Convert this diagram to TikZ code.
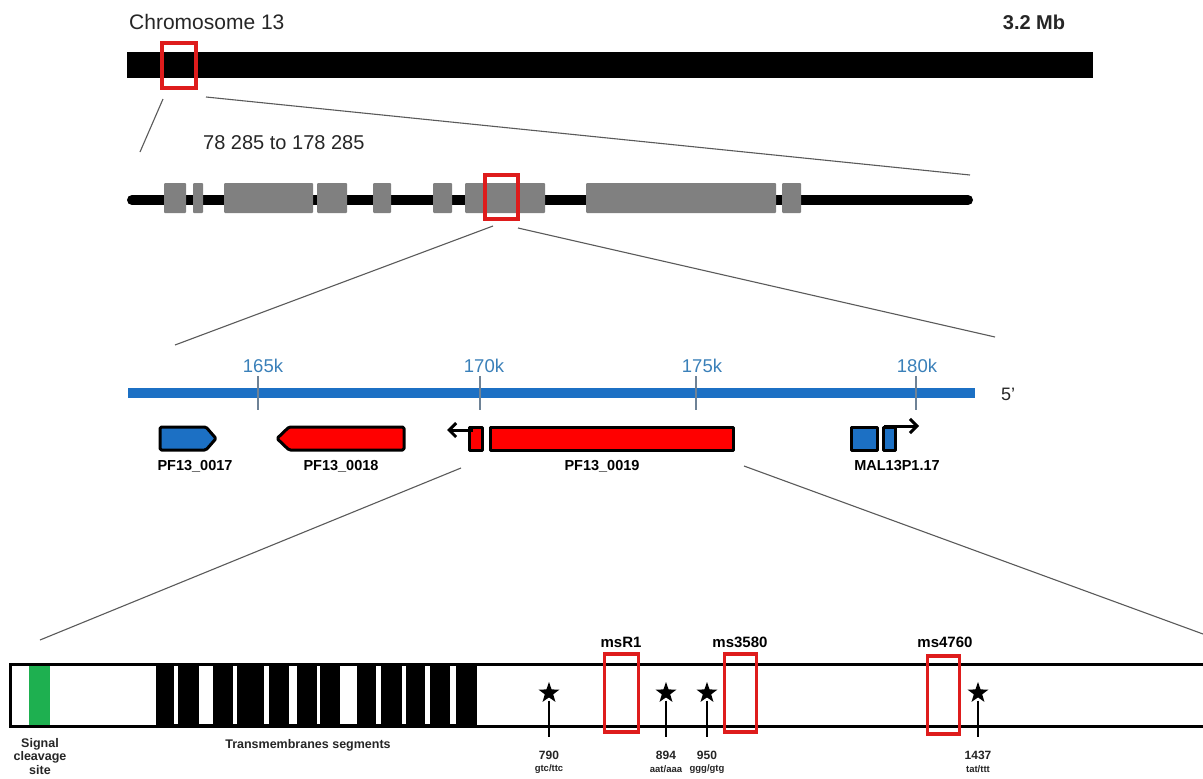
\documentclass[tikz,border=0pt]{standalone}
\usepackage{fontspec}
\setmainfont{Liberation Sans}
\usetikzlibrary{shapes.geometric,arrows.meta}
\definecolor{chrblue}{RGB}{28,112,196}
\definecolor{ticklab}{RGB}{58,128,185}
\definecolor{tickcol}{RGB}{110,130,150}
\definecolor{boxred}{RGB}{222,28,28}
\definecolor{genered}{RGB}{255,0,0}
\definecolor{sigkeep}{RGB}{30,176,80}
\definecolor{exon}{RGB}{128,128,128}
\definecolor{zoomline}{RGB}{90,90,90}
\tikzset{
  zoombox/.style={draw=boxred,line width=3.2pt},
  zoomconn/.style={draw=zoomline,line width=1.1pt},
  exonbox/.style={fill=exon,rounded corners=1pt},
  genebox/.style={draw=black,line width=3pt,line join=round},
  strandarrow/.style={draw=black,line width=3pt,-{Straight Barb[length=7pt,width=14pt]}},
  ticklabel/.style={text=ticklab,font=\fontsize{18.5}{20}\selectfont,inner sep=0pt},
  tickmark/.style={draw=tickcol,line width=1.4pt},
  genelabel/.style={font=\fontsize{14.5}{16}\selectfont\bfseries,inner sep=0pt},
  mslabel/.style={font=\fontsize{15}{16}\selectfont\bfseries,inner sep=0pt},
  snpstar/.style={star,star points=5,star point ratio=2.5,fill=black,minimum size=22pt,inner sep=0pt},
  snpnum/.style={font=\fontsize{12}{13}\selectfont\bfseries,inner sep=0pt,text=black!85},
  snpcod/.style={font=\fontsize{9.5}{10}\selectfont\bfseries,inner sep=0pt,text=black!85},
  seglabel/.style={font=\fontsize{12.5}{13.5}\selectfont\bfseries,inner sep=0pt,align=center,text=black!85},
}
\begin{document}
\begin{tikzpicture}[x=1pt,y=-1pt]
\useasboundingbox (0,0) rectangle (1203,779);
\clip (0,0) rectangle (1203,779);
\fill[white] (0,0) rectangle (1203,779);

% ---------- level 1: chromosome ----------
\node[anchor=west,inner sep=0pt,font=\fontsize{21}{22}\selectfont,text=black!85] (chrlab) at (129,22) {Chromosome 13};
\node[inner sep=0pt,font=\fontsize{20}{22}\selectfont\bfseries,text=black!85] (sizelab) at (1034,22) {3.2 Mb};
\fill[black] (127,52) rectangle (1093,78);
\node[zoombox,minimum width=34pt,minimum height=45pt,inner sep=0pt] (box1) at (179,65.5) {};

\coordinate (c1a) at (163,99);
\coordinate (c1b) at (140,152);
\coordinate (c1c) at (206,97);
\coordinate (c1d) at (970,175);
\draw[zoomconn] (c1a) -- (c1b);
\draw[zoomconn] (c1c) -- (c1d);

% ---------- level 2: region ----------
\node[anchor=west,inner sep=0pt,font=\fontsize{20}{22}\selectfont,text=black!85] (reglab) at (203,143) {78 285 to 178 285};
\draw[black,line width=10pt,line cap=round] (132,200) -- (968,200);
\foreach \a/\b in {164/186,193/203,224/313,317/347,373/391,433/452,465/545,586/776,782/801}{
  \fill[exonbox] (\a,183) rectangle (\b,213);
}
\node[zoombox,minimum width=33pt,minimum height=44pt,inner sep=0pt] (box2) at (501.5,197) {};

\coordinate (c2a) at (493,226);
\coordinate (c2b) at (175,345);
\coordinate (c2c) at (518,228);
\coordinate (c2d) at (995,337);
\draw[zoomconn] (c2a) -- (c2b);
\draw[zoomconn] (c2c) -- (c2d);

% ---------- level 3: genes ----------
\fill[chrblue] (128,388) rectangle (975,398);
\foreach \x/\lx/\t in {258/263/165k,480/484/170k,696/702/175k,916/917/180k}{
  \draw[tickmark] (\x,376) -- (\x,410);
  \node[ticklabel] at (\lx,366) {\t};
}
\node[inner sep=0pt,font=\fontsize{18}{20}\selectfont,text=black!85] (fivep) at (1008,394) {5'};

% PF13_0017
\draw[genebox,fill=chrblue,rounded corners=1.5pt] (160,427) -- (206,427) -- (216,438.5) -- (206,450) -- (160,450) -- cycle;
\node[genelabel] (g17) at (195,466) {PF13\_0017};
% PF13_0018
\draw[genebox,fill=genered,rounded corners=1.5pt] (404,427) -- (289,427) -- (277,438.5) -- (289,450) -- (404,450) -- cycle;
\node[genelabel] (g18) at (341,466) {PF13\_0018};
% PF13_0019
\draw[genebox,fill=genered] (469,427) rectangle (482,450);
\draw[genebox,fill=genered] (490,427) rectangle (733,450);
\coordinate (a19s) at (473,430);
\coordinate (a19e) at (447,430);
\draw[strandarrow] (a19s) -- (a19e);
\node[genelabel] (g19) at (602,466) {PF13\_0019};
% MAL13P1.17
\draw[genebox,fill=chrblue] (851,427) rectangle (877,450);
\draw[genebox,fill=chrblue] (883,427) rectangle (895,450);
\coordinate (amals) at (884,426);
\coordinate (amale) at (919,426);
\draw[strandarrow] (amals) -- (amale);
\node[genelabel] (gmal) at (897,466) {MAL13P1.17};

\coordinate (c3a) at (461,468);
\coordinate (c3b) at (40,640);
\coordinate (c3c) at (744,466);
\coordinate (c3d) at (1203,634);
\draw[zoomconn] (c3a) -- (c3b);
\draw[zoomconn] (c3c) -- (c3d);

% ---------- level 4: protein ----------
\fill[sigkeep] (29,664) rectangle (50,726);
\fill[black] (156,664) rectangle (477,726);
\foreach \a/\b in {174.3/177.7,199.3/212.7,232.7/237.3,264.3/269.3,289.3/296.7,316.7/320,340/357.3,376/381.3,401.7/406,425/430,450/455.7}{
  \fill[white] (\a,666) rectangle (\b,724);
}
\draw[black,line width=3pt] (1215,664) -- (10,664) -- (10,726) -- (1215,726);

\node[zoombox,minimum width=34pt,minimum height=78pt,inner sep=0pt] (msr1) at (621.5,693) {};
\node[zoombox,minimum width=32pt,minimum height=78pt,inner sep=0pt] (ms3580) at (740.5,693) {};
\node[zoombox,minimum width=32pt,minimum height=78pt,inner sep=0pt] (ms4760) at (943.5,695) {};
\node[mslabel] (lmsr1) at (621,642) {msR1};
\node[mslabel] (lms3580) at (740,642) {ms3580};
\node[mslabel] (lms4760) at (945,642) {ms4760};

\foreach \n/\x/\num/\cod in {s1/549/790/gtc\slash ttc,s2/666/894/aat\slash aaa,s3/707/950/ggg\slash gtg,s4/978/1437/tat\slash ttt}{
  \node[snpstar] (\n) at (\x,693) {};
  \coordinate (\n b) at (\x,737);
  \draw[black,line width=1.3pt] (\n.south) ++(0,3) -- (\n b);
  \node[snpnum] (\n num) at (\x,755) {\num};
  \node[snpcod] (\n cod) at (\x,769) {\cod};
}

\node[seglabel,anchor=north] (sig) at (40,738) {Signal\\cleavage\\site};
\node[seglabel] (tms) at (308,745) {Transmembranes segments};
\end{tikzpicture}
\end{document}
